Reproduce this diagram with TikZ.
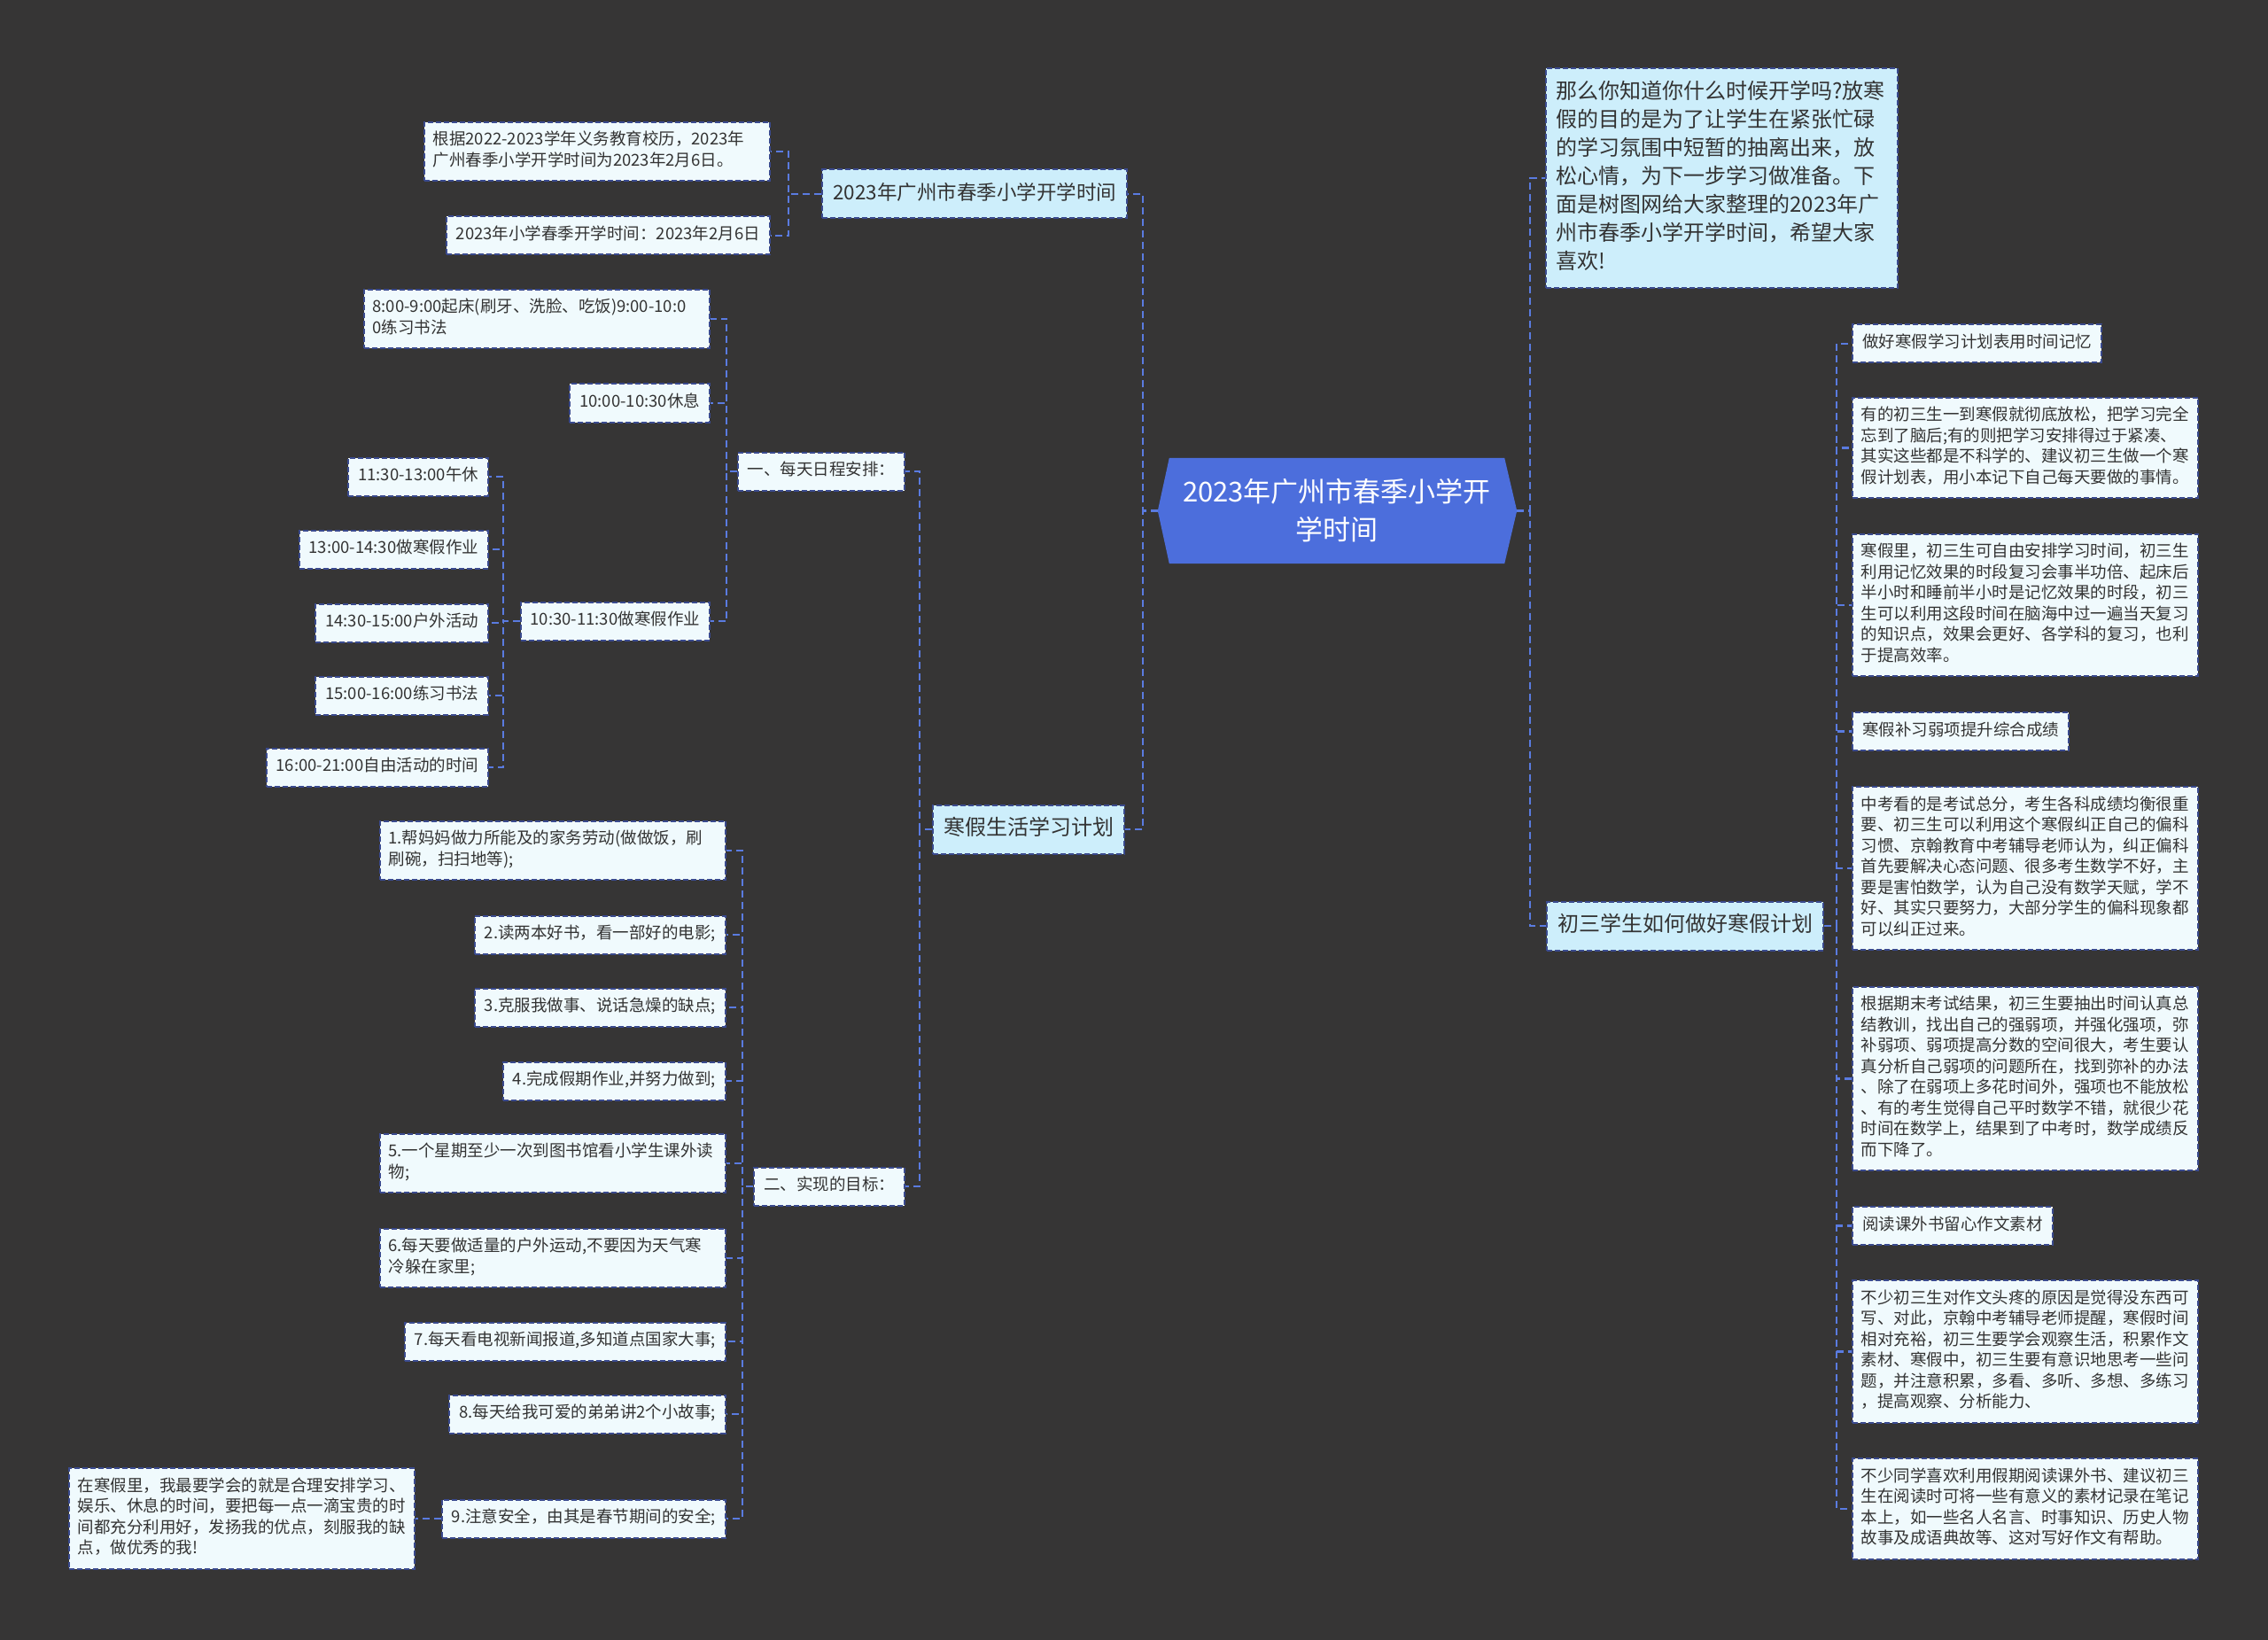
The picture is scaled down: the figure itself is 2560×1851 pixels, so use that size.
\documentclass[tikz,border=0pt]{standalone}
\usepackage{fontspec}
\setmainfont{Noto Sans CJK SC}
\usetikzlibrary{backgrounds}
\definecolor{bgc}{HTML}{363535}
\definecolor{rootfill}{HTML}{4C6EDC}
\definecolor{mainfill}{HTML}{CDEEFB}
\definecolor{leaffill}{HTML}{F0FAFD}
\definecolor{boxline}{HTML}{3A4A8E}
\definecolor{lineblue}{HTML}{5A7BE0}
\definecolor{txt}{HTML}{333333}
\begin{document}
\begin{tikzpicture}[x=1pt,y=-1pt,
  conn/.style={draw=lineblue, line width=2.6pt, dash pattern=on 8pt off 5pt},
  box/.style={draw=boxline, line width=2pt, dash pattern=on 6pt off 3pt, text=txt, inner ysep=9.75pt, inner xsep=11pt},
  leaf/.style={box, fill=leaffill, font=\fontsize{18.5}{23.5}\selectfont},
  mainb/.style={box, fill=mainfill, font=\fontsize{24}{31}\selectfont, inner xsep=12pt, inner ysep=12pt},
  wide/.style={text width=371pt, align=left, inner xsep=9.5pt},
  rootn/.style={minimum width=378pt, minimum height=119pt, inner sep=0pt, text=white, align=center, font=\fontsize{31}{43}\selectfont}
]
\useasboundingbox (0,0) rectangle (2560,1851);

% bracket x positions
\coordinate (brRL) at (1290,0);
\coordinate (brRR) at (1727,0);
\coordinate (brA) at (890,0);
\coordinate (brB) at (1038,0);
\coordinate (brB1) at (820,0);
\coordinate (brB1c) at (568,0);
\coordinate (brB2) at (838,0);
\coordinate (brG) at (487,0);
\coordinate (brC) at (2073,0);

% root
\node[rootn] (root) at (1509,576.5) {2023年广州市春季小学开\\学时间};
\coordinate (rootL) at ([xshift=-13pt]root.west);
\coordinate (rootR) at ([xshift=14pt]root.east);

\begin{scope}[on background layer]
\fill[bgc] (0,0) rectangle (2560,1851);
\fill[rootfill] (rootL) -- (root.north west) -- (root.north east) -- (rootR) -- (root.south east) -- (root.south west) -- cycle;
\end{scope}

% ---------- left side ----------
\node[mainb, anchor=east, font=\fontsize{22.5}{31}\selectfont] (a) at (1273,219) {\strut 2023年广州市春季小学开学时间};
\node[leaf, wide, anchor=east] (a1) at (870,171) {\strut 根据2022-2023学年义务教育校历，2023年\\广州春季小学开学时间为2023年2月6日。\strut};
\node[leaf, anchor=east] (a2) at (870,266) {\strut 2023年小学春季开学时间：2023年2月6日};

\node[mainb, anchor=east] (b) at (1270,936) {\strut 寒假生活学习计划};
\node[leaf, anchor=east] (b1) at (1022,532) {\strut 一、每天日程安排：};
\node[leaf, anchor=east] (b2) at (1022,1339) {\strut 二、实现的目标：};

\node[leaf, wide, anchor=east] (b1a) at (802,360) {\strut 8:00-9:00起床(刷牙、洗脸、吃饭)9:00-10:0\\0练习书法\strut};
\node[leaf, anchor=east] (b1b) at (802,455) {\strut 10:00-10:30休息};
\node[leaf, anchor=east] (b1c) at (802,701) {\strut 10:30-11:30做寒假作业};

\node[leaf, anchor=east] (c1) at (552,538) {\strut 11:30-13:00午休};
\node[leaf, anchor=east] (c2) at (552,620) {\strut 13:00-14:30做寒假作业};
\node[leaf, anchor=east] (c3) at (552,703) {\strut 14:30-15:00户外活动};
\node[leaf, anchor=east] (c4) at (552,785) {\strut 15:00-16:00练习书法};
\node[leaf, anchor=east] (c5) at (552,866) {\strut 16:00-21:00自由活动的时间};

\node[leaf, wide, anchor=east] (g1) at (820,960) {\strut 1.帮妈妈做力所能及的家务劳动(做做饭，刷\\刷碗，扫扫地等);\strut};
\node[leaf, anchor=east] (g2) at (820,1055) {\strut 2.读两本好书，看一部好的电影;};
\node[leaf, anchor=east] (g3) at (820,1137) {\strut 3.克服我做事、说话急燥的缺点;};
\node[leaf, anchor=east] (g4) at (820,1220) {\strut 4.完成假期作业,并努力做到;};
\node[leaf, wide, anchor=east] (g5) at (820,1313) {\strut 5.一个星期至少一次到图书馆看小学生课外读\\物;\strut};
\node[leaf, wide, anchor=east] (g6) at (820,1420) {\strut 6.每天要做适量的户外运动,不要因为天气寒\\冷躲在家里;\strut};
\node[leaf, anchor=east] (g7) at (820,1514) {\strut 7.每天看电视新闻报道,多知道点国家大事;};
\node[leaf, anchor=east] (g8) at (820,1596) {\strut 8.每天给我可爱的弟弟讲2个小故事;};
\node[leaf, anchor=east] (g9) at (820,1714) {\strut 9.注意安全，由其是春节期间的安全;};
\node[leaf, wide, anchor=east] (g9a) at (469,1714) {\strut 在寒假里，我最要学会的就是合理安排学习、\\娱乐、休息的时间，要把每一点一滴宝贵的时\\间都充分利用好，发扬我的优点，刻服我的缺\\点，做优秀的我!\strut};

% ---------- right side ----------
\node[mainb, anchor=west, text width=374pt, align=left, inner xsep=11.5pt, font=\fontsize{24}{32}\selectfont] (intro) at (1744,201) {\strut 那么你知道你什么时候开学吗?放寒\\假的目的是为了让学生在紧张忙碌\\的学习氛围中短暂的抽离出来，放\\松心情，为下一步学习做准备。下\\面是树图网给大家整理的2023年广\\州市春季小学开学时间，希望大家\\喜欢!\strut};
\node[mainb, anchor=west] (c) at (1745,1045) {\strut 初三学生如何做好寒假计划};

\node[leaf, anchor=west] (r1) at (2090,388) {\strut 做好寒假学习计划表用时间记忆};
\node[leaf, wide, anchor=west] (r2) at (2090,505.5) {\strut 有的初三生一到寒假就彻底放松，把学习完全\\忘到了脑后;有的则把学习安排得过于紧凑、\\其实这些都是不科学的、建议初三生做一个寒\\假计划表，用小本记下自己每天要做的事情。\strut};
\node[leaf, wide, anchor=west] (r3) at (2090,683) {\strut 寒假里，初三生可自由安排学习时间，初三生\\利用记忆效果的时段复习会事半功倍、起床后\\半小时和睡前半小时是记忆效果的时段，初三\\生可以利用这段时间在脑海中过一遍当天复习\\的知识点，效果会更好、各学科的复习，也利\\于提高效率。\strut};
\node[leaf, anchor=west] (r4) at (2090,825.5) {\strut 寒假补习弱项提升综合成绩};
\node[leaf, wide, anchor=west] (r5) at (2090,980) {\strut 中考看的是考试总分，考生各科成绩均衡很重\\要、初三生可以利用这个寒假纠正自己的偏科\\习惯、京翰教育中考辅导老师认为，纠正偏科\\首先要解决心态问题、很多考生数学不好，主\\要是害怕数学，认为自己没有数学天赋，学不\\好、其实只要努力，大部分学生的偏科现象都\\可以纠正过来。\strut};
\node[leaf, wide, anchor=west] (r6) at (2090,1217.5) {\strut 根据期末考试结果，初三生要抽出时间认真总\\结教训，找出自己的强弱项，并强化强项，弥\\补弱项、弱项提高分数的空间很大，考生要认\\真分析自己弱项的问题所在，找到弥补的办法\\、除了在弱项上多花时间外，强项也不能放松\\、有的考生觉得自己平时数学不错，就很少花\\时间在数学上，结果到了中考时，数学成绩反\\而下降了。\strut};
\node[leaf, anchor=west] (r7) at (2090,1383.5) {\strut 阅读课外书留心作文素材};
\node[leaf, wide, anchor=west] (r8) at (2090,1525.5) {\strut 不少初三生对作文头疼的原因是觉得没东西可\\写、对此，京翰中考辅导老师提醒，寒假时间\\相对充裕，初三生要学会观察生活，积累作文\\素材、寒假中，初三生要有意识地思考一些问\\题，并注意积累，多看、多听、多想、多练习\\，提高观察、分析能力、\strut};
\node[leaf, wide, anchor=west] (r9) at (2090,1703) {\strut 不少同学喜欢利用假期阅读课外书、建议初三\\生在阅读时可将一些有意义的素材记录在笔记\\本上，如一些名人名言、时事知识、历史人物\\故事及成语典故等、这对写好作文有帮助。\strut};

% ---------- connectors ----------
\foreach \ch in {a,b} \draw[conn] (rootL) -- (rootL -| brRL) |- (\ch.east);
\foreach \ch in {intro,c} \draw[conn] (rootR) -- (rootR -| brRR) |- (\ch.west);
\foreach \ch in {a1,a2} \draw[conn] (a.west) -- (a.west -| brA) |- (\ch.east);
\foreach \ch in {b1,b2} \draw[conn] (b.west) -- (b.west -| brB) |- (\ch.east);
\foreach \ch in {b1a,b1b,b1c} \draw[conn] (b1.west) -- (b1.west -| brB1) |- (\ch.east);
\foreach \ch in {c1,c2,c3,c4,c5} \draw[conn] (b1c.west) -- (b1c.west -| brB1c) |- (\ch.east);
\foreach \ch in {g1,g2,g3,g4,g5,g6,g7,g8,g9} \draw[conn] (b2.west) -- (b2.west -| brB2) |- (\ch.east);
\draw[conn] (g9.west) -- (g9.west -| brG) |- (g9a.east);
\foreach \ch in {r1,r2,r3,r4,r5,r6,r7,r8,r9} \draw[conn] (c.east) -- (c.east -| brC) |- (\ch.west);
\end{tikzpicture}
\end{document}
